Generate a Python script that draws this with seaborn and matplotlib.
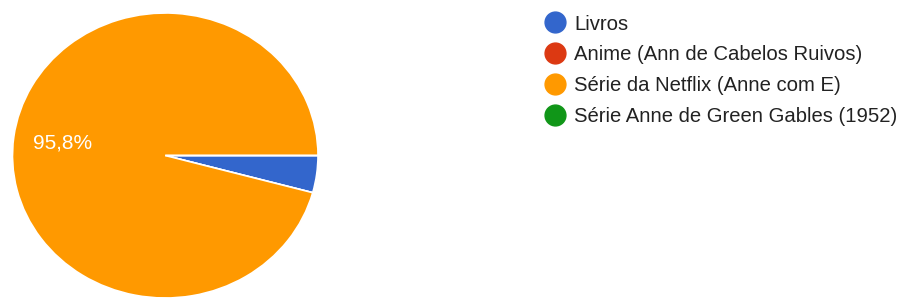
import matplotlib
matplotlib.use("Agg")
import matplotlib.pyplot as plt
from matplotlib.lines import Line2D
import seaborn as sns

# answers from the form (share in %)
categories = ["Livros", "Anime (Ann de Cabelos Ruivos)",
              "Série da Netflix (Anne com E)", "Série Anne de Green Gables (1952)"]
shares = [4.2, 0.0, 95.8, 0.0]
colors = ["#3366cc", "#dc3912", "#ff9900", "#109618"]

sns.set_theme(style="white")
plt.rcParams['font.family'] = ['Liberation Sans', 'DejaVu Sans']

W, H = 904, 302
fig = plt.figure(figsize=(W / 100, H / 100), dpi=100)
palette = sns.color_palette(colors)

# pie axes, slightly stretched like the screenshot
ax = fig.add_axes([12.5 / W, 4 / H, 305.5 / W, 285 / H])


def pct_label(p):
    # only label slices big enough, with decimal comma
    return f"{p:.1f}%".replace(".", ",") if p > 5 else ""


wedges, texts, autotexts = ax.pie(
    shares, colors=palette, startangle=0, counterclock=False,
    autopct=pct_label, pctdistance=0.68,
    wedgeprops=dict(edgecolor="white", linewidth=1.2),
    textprops=dict(color="white", fontsize=15),
)
ax.set_xlim(-1, 1)
ax.set_ylim(-1, 1)
ax.set_aspect("auto")
ax.axis("off")

handles = [Line2D([], [], marker="o", linestyle="", markersize=15,
                  markerfacecolor=c, markeredgecolor=c) for c in palette]
fig.legend(handles, categories, loc="upper left",
           bbox_to_anchor=(546 / W, 1 - 14.5 / H), frameon=False,
           fontsize=14.6, borderpad=0, borderaxespad=0,
           handlelength=0.86, handletextpad=0.54, labelspacing=0.58,
           labelcolor="#222222")

fig.savefig("out.png", dpi=100)
